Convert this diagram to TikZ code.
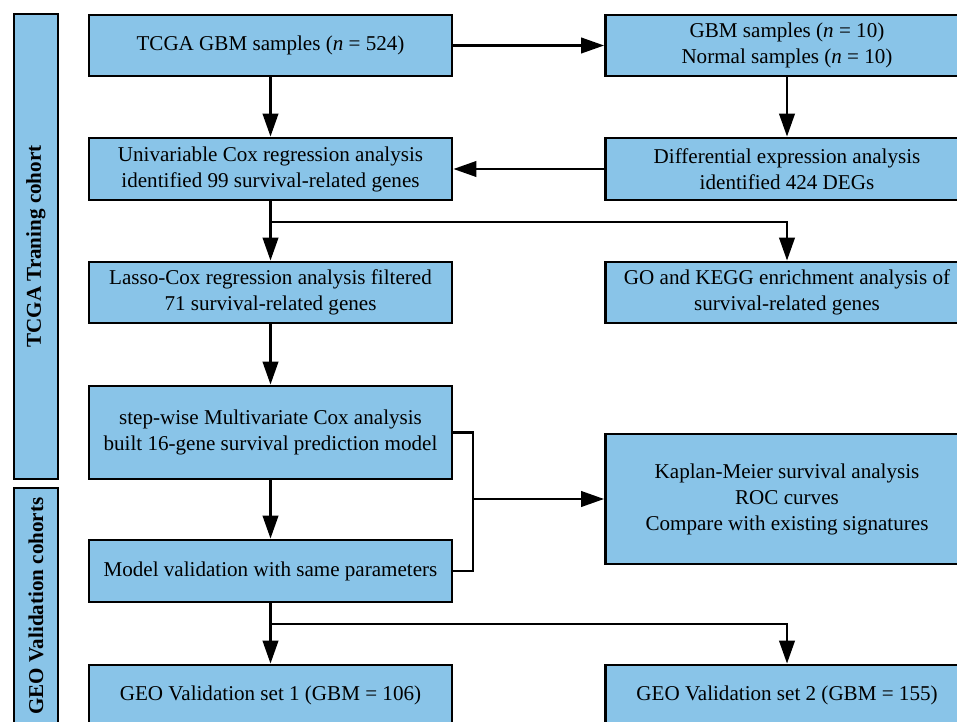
\documentclass[tikz,border=0pt]{standalone}
\usepackage{fontspec}
\setmainfont{Liberation Serif}
\usetikzlibrary{arrows.meta}
\definecolor{azzurro}{RGB}{137,196,232}

\begin{document}
\begin{tikzpicture}[x=1cm,y=1cm,line join=miter,font=\fontsize{12}{14.8}\selectfont,
    blocco/.style={draw,line width=1.6pt,fill=azzurro,align=center,inner sep=2pt,minimum width=7.26cm},
    fascia/.style={draw,line width=1.6pt,fill=azzurro,rotate=90,minimum height=0.88cm,
      inner sep=0pt,font=\fontsize{12}{14.8}\selectfont\bfseries},
    linea/.style={line width=1.4pt},
    freccia/.style={line width=1.4pt,-{Triangle[length=0.46cm,width=0.31cm]}}]

  \clip (0,0) rectangle (19.14,-14.44);

  % ---- le due coorti -------------------------------------------------------
  \node[fascia,minimum width=9.30cm] (tcgacoorte) at (0.72,-4.93) {TCGA Traning cohort};
  \node[fascia,minimum width=4.72cm] (geocoorte)  at (0.72,-12.12) {GEO Validation cohorts};

  % ---- colonna di sinistra -------------------------------------------------
  \node[blocco,minimum height=1.22cm] (tcga)     at (5.41,-0.91)  {TCGA GBM samples (\textit{n} = 524)};
  \node[blocco,minimum height=1.24cm] (unicox)   at (5.41,-3.38)  {Univariable Cox regression analysis\\identified 99 survival-related genes};
  \node[blocco,minimum height=1.22cm] (lasso)    at (5.41,-5.85)  {Lasso-Cox regression analysis filtered\\71 survival-related genes};
  \node[blocco,minimum height=1.86cm] (multicox) at (5.41,-8.65)  {step-wise Multivariate Cox analysis\\built 16-gene survival prediction model};
  \node[blocco,minimum height=1.24cm] (valida)   at (5.41,-11.42) {Model validation with same parameters};
  \node[blocco,minimum height=1.22cm] (geo1)     at (5.41,-13.91) {GEO Validation set 1 (GBM = 106)};

  % ---- colonna di destra ---------------------------------------------------
  \node[blocco,minimum height=1.22cm] (campioni) at (15.74,-0.91)  {GBM samples (\textit{n} = 10)\\Normal samples (\textit{n} = 10)};
  \node[blocco,minimum height=1.24cm] (deg)      at (15.74,-3.38)  {Differential expression analysis\\identified 424 DEGs};
  \node[blocco,minimum height=1.22cm] (gokegg)   at (15.74,-5.85)  {GO and KEGG enrichment analysis of\\survival-related genes};
  \node[blocco,minimum height=2.60cm] (km)       at (15.74,-9.98)  {Kaplan-Meier survival analysis\\ROC curves\\Compare with existing signatures};
  \node[blocco,minimum height=1.22cm] (geo2)     at (15.74,-13.91) {GEO Validation set 2 (GBM = 155)};

  % ---- punti di snodo ------------------------------------------------------
  \coordinate (bivio1) at (5.41,-4.44);
  \coordinate (bivio2) at (5.41,-12.48);
  \coordinate (staffa) at (9.46,-9.98);

  % ---- frecce ----------------------------------------------------------------
  \draw[freccia] (tcga) -- (campioni);
  \draw[freccia] (tcga) -- (unicox);
  \draw[freccia] (campioni) -- (deg);
  \draw[freccia] (deg) -- (unicox);
  \draw[freccia] (unicox) -- (lasso);
  \draw[freccia] (bivio1) -| (gokegg);
  \draw[freccia] (lasso) -- (multicox);
  \draw[freccia] (multicox) -- (valida);
  \draw[linea] (multicox.east) -| (staffa) |- (valida.east);
  \draw[freccia] (staffa) -- (km);
  \draw[freccia] (valida) -- (geo1);
  \draw[freccia] (bivio2) -| (geo2);

\end{tikzpicture}
\end{document}
